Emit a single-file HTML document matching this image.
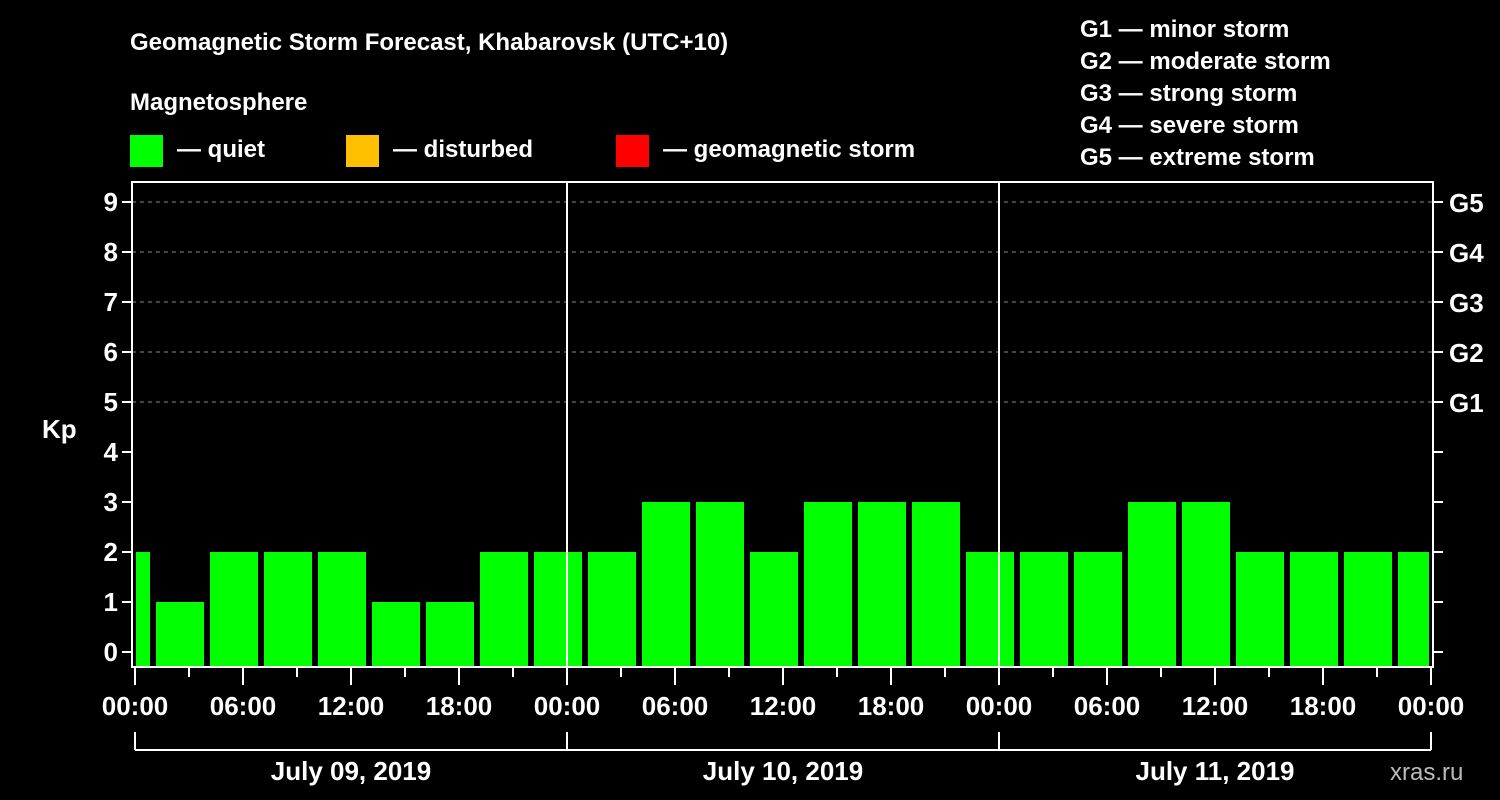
<!DOCTYPE html>
<html><head><meta charset="utf-8"><style>
html,body{margin:0;padding:0;background:#000;width:1500px;height:800px;overflow:hidden}
svg text{font-family:"Liberation Sans",Arial,sans-serif;font-weight:bold;fill:#fff}
</style></head><body>
<svg id="chart" width="1500" height="800" xmlns="http://www.w3.org/2000/svg">
<text x="130" y="50" font-size="24">Geomagnetic Storm Forecast, Khabarovsk (UTC+10)</text>
<text x="130" y="110" font-size="24">Magnetosphere</text>
<g>
<rect x="130" y="135" width="33" height="32" fill="#00ff00"/>
<text x="177" y="157" font-size="24">— quiet</text>
<rect x="346" y="135" width="33" height="32" fill="#ffc000"/>
<text x="393" y="157" font-size="24">— disturbed</text>
<rect x="616" y="135" width="33" height="32" fill="#ff0000"/>
<text x="663" y="157" font-size="24">— geomagnetic storm</text>
</g>
<g font-size="24">
<text x="1080" y="37">G1 — minor storm</text>
<text x="1080" y="69">G2 — moderate storm</text>
<text x="1080" y="101">G3 — strong storm</text>
<text x="1080" y="133">G4 — severe storm</text>
<text x="1080" y="165">G5 — extreme storm</text>
</g>
<text x="42" y="438" font-size="26">Kp</text>
<text x="1390" y="780" font-size="24" style="fill:#bbb;font-weight:normal">xras.ru</text>
<g id="grid"></g><g id="bars"></g><g id="axes"></g>
</svg>
<script>
const kpValues=[2,1,2,2,2,1,1,2,2,2,3,3,2,3,3,3,2,2,2,3,3,2,2,2,2];
const yTicks=[0,1,2,3,4,5,6,7,8,9];
const gLabels=["G1","G2","G3","G4","G5"];
const hourLabels=["00:00","06:00","12:00","18:00","00:00","06:00","12:00","18:00","00:00","06:00","12:00","18:00","00:00"];
const dateLabels=["July 09, 2019","July 10, 2019","July 11, 2019"];
const NS="http://www.w3.org/2000/svg";
const L=132,R=1433,T=182,B=667,X0=135,PXH=18,Y0=652,PXK=50;
const xh=h=>X0+h*PXH, yk=k=>Y0-k*PXK;
function mk(t,a,p){const e=document.createElementNS(NS,t);for(const k in a)e.setAttribute(k,a[k]);p.appendChild(e);return e;}
const grid=document.getElementById('grid'),bars=document.getElementById('bars'),axes=document.getElementById('axes');
for(let k=5;k<=9;k++){const l=mk('line',{x1:L,x2:R,y1:yk(k),y2:yk(k),stroke:'#888','stroke-dasharray':'4,4','stroke-width':1},grid);

}
kpValues.forEach((v,i)=>{const c=xh(2.5+3*(i-1));let x1=Math.max(c-24,L+4),x2=Math.min(c+24,R-4);
const r=mk('rect',{x:x1,y:yk(v),width:x2-x1,height:B-yk(v),fill:'#00ff00'},bars);

});
const fr=mk('rect',{x:L,y:T,width:R-L,height:B-T,fill:'none',stroke:'#fff','stroke-width':2},axes);


[24,48].forEach(h=>{const l=mk('line',{x1:xh(h),x2:xh(h),y1:T,y2:B,stroke:'#fff','stroke-width':2},axes);

});
yTicks.forEach(k=>{const y=yk(k);
mk('line',{x1:L-10,x2:L,y1:y,y2:y,stroke:'#fff','stroke-width':2},axes);
mk('line',{x1:R,x2:R+10,y1:y,y2:y,stroke:'#fff','stroke-width':2},axes);
const t=mk('text',{x:L-14,y:y+9,'text-anchor':'end','font-size':26},axes);t.textContent=k;

});
gLabels.forEach((g,i)=>{const t=mk('text',{x:R+16,y:yk(5+i)+10,'font-size':26},axes);t.textContent=g;

});
for(let h=0;h<=72;h+=3){const lg=h%6===0;mk('line',{x1:xh(h),x2:xh(h),y1:B,y2:B+(lg?18:10),stroke:'#fff','stroke-width':2},axes);}
hourLabels.forEach((s,i)=>{const t=mk('text',{x:xh(i*6),y:715,'text-anchor':'middle','font-size':26},axes);t.textContent=s;

});
mk('line',{x1:xh(0),x2:xh(72),y1:750,y2:750,stroke:'#fff','stroke-width':2},axes);
[0,24,48,72].forEach(h=>mk('line',{x1:xh(h),x2:xh(h),y1:732,y2:750,stroke:'#fff','stroke-width':2},axes));
dateLabels.forEach((s,i)=>{const t=mk('text',{x:xh(12+24*i),y:780,'text-anchor':'middle','font-size':26},axes);t.textContent=s;

});
</script>
</body></html>
